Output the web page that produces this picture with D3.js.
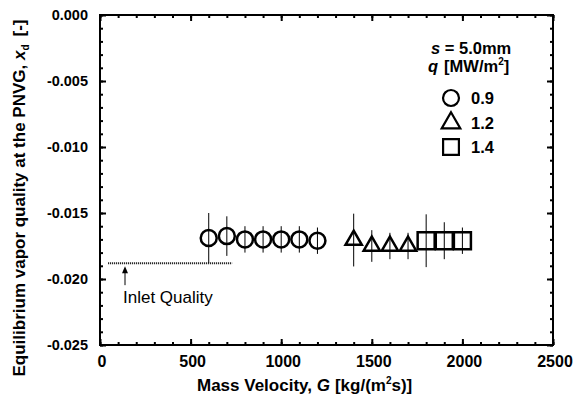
<!DOCTYPE html>
<html>
<head>
<meta charset="utf-8">
<script src="https://cdn.jsdelivr.net/npm/d3@7"></script>
<style>
body { margin: 0; background: #fff; }
text { font-family: "Liberation Sans", Arial, sans-serif; font-weight: bold; }
</style>
</head>
<body>
<script>
// data
var circG = [600, 700, 800, 900, 1000, 1100, 1200];
var circX = [-0.0169, -0.01675, -0.0170, -0.0170, -0.0170, -0.0170, -0.0171];
var circErr = [0.0019, 0.0015, 0.0010, 0.0010, 0.0010, 0.0010, 0.0010];

var triG = [1400, 1500, 1600, 1700];
var triX = [-0.01705, -0.0175, -0.0175, -0.0175];
var triErr = [0.0020, 0.0012, 0.0010, 0.0010];

var sqG = [1800, 1900, 2000];
var sqX = [-0.0171, -0.0171, -0.0171];
var sqErr = [0.0020, 0.0014, 0.0010];

var inletG = [45, 730];
var inletX = -0.0188;

var xTicks = [0, 500, 1000, 1500, 2000, 2500];
var yTicks = [0, -0.005, -0.010, -0.015, -0.020, -0.025];

var width = 586, height = 406;
var pLeft = 100, pRight = 553, pTop = 15, pBottom = 345;

var svg = d3.select("body").append("svg")
	.attr("width", width)
	.attr("height", height);

var x = d3.scaleLinear().domain([0, 2500]).range([pLeft, pRight]);
var y = d3.scaleLinear().domain([-0.025, 0]).range([pBottom, pTop]);

// minor + major ticks, all pointing inward
function ticks(axisGen, tr) {
	var g = svg.append("g").attr("transform", tr).call(axisGen);
	g.select(".domain").remove();
	g.selectAll("line").attr("stroke", "#000").attr("stroke-width", 2);
	return g;
}
var xMinor = d3.range(0, 2501, 100),
	yMinor = d3.range(-25, 1).map(function(d) { return d / 1000; });

ticks(d3.axisTop(x).tickValues(xMinor).tickSize(3).tickFormat(""), "translate(0," + pBottom + ")");
ticks(d3.axisTop(x).tickValues(xTicks).tickSize(6).tickFormat(""), "translate(0," + pBottom + ")");
ticks(d3.axisBottom(x).tickValues(xMinor).tickSize(3).tickFormat(""), "translate(0," + pTop + ")");
ticks(d3.axisBottom(x).tickValues(xTicks).tickSize(6).tickFormat(""), "translate(0," + pTop + ")");
ticks(d3.axisRight(y).tickValues(yMinor).tickSize(3).tickFormat(""), "translate(" + pLeft + ",0)");
ticks(d3.axisRight(y).tickValues(yTicks).tickSize(6).tickFormat(""), "translate(" + pLeft + ",0)");
ticks(d3.axisLeft(y).tickValues(yMinor).tickSize(3).tickFormat(""), "translate(" + pRight + ",0)");
ticks(d3.axisLeft(y).tickValues(yTicks).tickSize(6).tickFormat(""), "translate(" + pRight + ",0)");

svg.append("rect")
	.attr("x", pLeft).attr("y", pTop)
	.attr("width", pRight - pLeft).attr("height", pBottom - pTop)
	.attr("fill", "none").attr("stroke", "#000").attr("stroke-width", 2);

// tick labels
svg.selectAll(".xl").data(xTicks).enter().append("text")
	.attr("x", function(d) { return x(d) + 2; })
	.attr("y", 367)
	.attr("text-anchor", "middle")
	.style("font-size", "16px")
	.text(function(d) { return d; });

svg.selectAll(".yl").data(yTicks).enter().append("text")
	.attr("x", 88)
	.attr("y", function(d) { return y(d) + 5; })
	.attr("text-anchor", "end")
	.style("font-size", "14.5px")
	.text(function(d) { return d3.format(".3f")(d).replace("−", "-"); });

// axis titles
var xt = svg.append("text")
	.attr("x", 197).attr("y", 391)
	.style("font-size", "17px");
xt.append("tspan").text("Mass Velocity, ");
xt.append("tspan").style("font-style", "italic").text("G");
xt.append("tspan").attr("dx", 5).text("[kg/(m");
xt.append("tspan").attr("dy", -7).style("font-size", "10px").text("2");
xt.append("tspan").attr("dy", 7).text("s)]");

var yt = svg.append("text")
	.attr("transform", "translate(25,198) rotate(-90)")
	.attr("text-anchor", "middle")
	.style("font-size", "17px");
yt.append("tspan").text("Equilibrium vapor quality at the PNVG, ");
yt.append("tspan").style("font-style", "italic").text("x");
yt.append("tspan").attr("dy", 4).style("font-size", "10px").text("d");
yt.append("tspan").attr("dy", -4).attr("dx", 8).text("[-]");

// inlet quality line + arrow
svg.append("line")
	.attr("x1", x(inletG[0])).attr("x2", x(inletG[1]))
	.attr("y1", y(inletX)).attr("y2", y(inletX))
	.attr("stroke", "#000").attr("stroke-width", 2)
	.attr("stroke-dasharray", "1,1");

svg.append("line")
	.attr("x1", x(138)).attr("x2", x(138))
	.attr("y1", y(inletX) + 8).attr("y2", y(inletX) + 22)
	.attr("stroke", "#000").attr("stroke-width", 1);
svg.append("path")
	.attr("d", "M" + x(138) + "," + (y(inletX) + 3) + " l-3,7 l6,0 z")
	.attr("fill", "#000");
svg.append("text")
	.attr("x", 123).attr("y", 303)
	.style("font-size", "17px").style("font-weight", "normal")
	.text("Inlet Quality");

// series
function series(gs, xs, errs, symType, size) {
	var data = gs.map(function(g, i) { return { g: g, v: xs[i], e: errs[i] }; });
	var grp = svg.append("g");
	grp.selectAll("path.m").data(data).enter().append("path")
		.attr("class", "m")
		.attr("transform", function(d) { return "translate(" + x(d.g) + "," + y(d.v) + ")"; })
		.attr("d", d3.symbol().type(symType).size(size))
		.attr("fill", "none").attr("stroke", "#000").attr("stroke-width", 2.5);
	grp.selectAll("line.e").data(data).enter().append("line")
		.attr("class", "e")
		.attr("x1", function(d) { return x(d.g); })
		.attr("x2", function(d) { return x(d.g); })
		.attr("y1", function(d) { return y(d.v + d.e); })
		.attr("y2", function(d) { return y(d.v - d.e); })
		.attr("stroke", "#000").attr("stroke-width", 1);
}
series(circG, circX, circErr, d3.symbolCircle, 200);
series(triG, triX, triErr, d3.symbolTriangle, 115);
series(sqG, sqX, sqErr, d3.symbolSquare, 290);

// legend
var lt = svg.append("text").attr("x", 431).attr("y", 54).style("font-size", "16.5px");
lt.append("tspan").style("font-style", "italic").text("s");
lt.append("tspan").text(" = 5.0mm");
var lq = svg.append("text").attr("x", 428).attr("y", 72).style("font-size", "16.5px");
lq.append("tspan").style("font-style", "italic").text("q");
lq.append("tspan").attr("dx", 6).text("[MW/m");
lq.append("tspan").attr("dy", -7).style("font-size", "10px").text("2");
lq.append("tspan").attr("dy", 7).text("]");

var legendItems = [
	{ t: d3.symbolCircle, s: 200, label: "0.9", y: 98 },
	{ t: d3.symbolTriangle, s: 150, label: "1.2", y: 123 },
	{ t: d3.symbolSquare, s: 250, label: "1.4", y: 147 }
];
legendItems.forEach(function(it) {
	svg.append("path")
		.attr("transform", "translate(451," + it.y + ")")
		.attr("d", d3.symbol().type(it.t).size(it.s))
		.attr("fill", "none").attr("stroke", "#000").attr("stroke-width", 2.2);
	svg.append("text").attr("x", 471).attr("y", it.y + 6)
		.style("font-size", "16.5px")
		.text(it.label);
});
</script>
</body>
</html>
